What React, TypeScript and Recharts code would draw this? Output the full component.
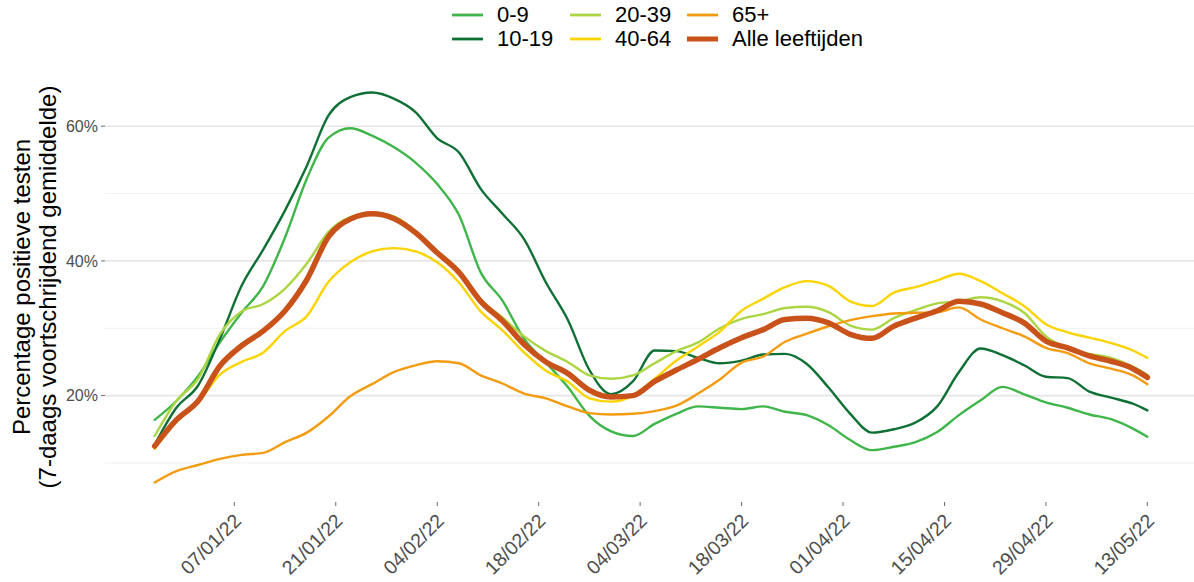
import React from 'react';
import { LineChart, Line, XAxis, YAxis, CartesianGrid } from 'recharts';

// Sample dates (every 3 days, last point 13/05/22)
const sampleDates = [
  '2021-12-27', '2021-12-30', '2022-01-02', '2022-01-05', '2022-01-08', '2022-01-11', '2022-01-14', '2022-01-17', '2022-01-20', '2022-01-23', '2022-01-26', '2022-01-29',
  '2022-02-01', '2022-02-04', '2022-02-07', '2022-02-10', '2022-02-13', '2022-02-16', '2022-02-19', '2022-02-22', '2022-02-25', '2022-02-28', '2022-03-03',
  '2022-03-06', '2022-03-09', '2022-03-12', '2022-03-15', '2022-03-18', '2022-03-21', '2022-03-24', '2022-03-27', '2022-03-30', '2022-04-02', '2022-04-05', '2022-04-08',
  '2022-04-11', '2022-04-14', '2022-04-17', '2022-04-20', '2022-04-23', '2022-04-26', '2022-04-29', '2022-05-02', '2022-05-05', '2022-05-08', '2022-05-11', '2022-05-13',
];

const v0_9 = [16.4, 19.2, 22.9, 27.9, 32.3, 36.3, 43.5, 52.2, 58.3, 59.7, 58.6, 56.9, 54.6, 51.4, 46.8, 38.3, 34.1, 28.4, 24.9, 21.3, 17.0, 14.7, 14.0, 15.8, 17.3, 18.4, 18.2, 18.0, 18.4, 17.6, 17.1, 15.6, 13.4, 11.9, 12.4, 13.1, 14.6, 17.1, 19.3, 21.3, 20.2, 19.0, 18.2, 17.2, 16.5, 15.1, 13.9];
const v10_19 = [12.7, 18.2, 21.5, 28.4, 36.3, 41.7, 47.5, 54.1, 61.6, 64.3, 65.0, 64.1, 62.1, 58.2, 56.1, 50.7, 47.0, 43.2, 36.8, 31.3, 23.8, 20.2, 22.1, 26.7, 26.6, 25.6, 24.8, 25.2, 26.1, 26.2, 24.7, 21.2, 17.3, 14.5, 15.0, 16.0, 18.4, 23.5, 27.0, 26.0, 24.5, 22.8, 22.6, 20.6, 19.7, 18.8, 17.8];
const v20_39 = [14.0, 19.2, 22.5, 29.1, 32.5, 33.6, 35.9, 39.6, 44.3, 46.5, 47.1, 46.6, 44.4, 41.5, 38.6, 34.3, 31.6, 28.8, 26.6, 25.0, 23.0, 22.5, 23.0, 24.8, 26.6, 27.9, 30.0, 31.4, 32.1, 33.0, 33.2, 32.4, 30.4, 29.8, 31.5, 32.7, 33.7, 34.0, 34.6, 34.0, 32.3, 28.8, 27.1, 26.2, 25.6, 24.3, 23.1];
const v40_64 = [12.1, 16.1, 19.0, 23.1, 25.0, 26.4, 29.6, 31.8, 36.9, 39.8, 41.4, 41.9, 41.4, 39.8, 36.8, 32.5, 29.7, 26.4, 23.7, 22.1, 19.6, 19.1, 20.0, 22.5, 25.2, 27.3, 29.5, 32.6, 34.4, 36.1, 37.0, 36.3, 34.0, 33.3, 35.3, 36.1, 37.1, 38.1, 37.0, 35.2, 33.3, 30.6, 29.4, 28.6, 27.8, 26.7, 25.6];
const v65plus = [7.1, 8.8, 9.7, 10.6, 11.2, 11.5, 13.1, 14.5, 16.9, 19.9, 21.7, 23.5, 24.5, 25.1, 24.8, 23.0, 21.8, 20.3, 19.6, 18.4, 17.4, 17.2, 17.3, 17.7, 18.5, 20.3, 22.4, 24.9, 25.8, 28.0, 29.2, 30.3, 31.2, 31.8, 32.2, 32.3, 32.4, 33.1, 31.3, 30.0, 28.8, 27.1, 26.3, 24.8, 24.0, 23.0, 21.7];
const vAlle = [12.5, 16.4, 19.2, 24.4, 27.4, 29.6, 32.6, 37.2, 43.6, 46.2, 47.0, 46.3, 44.2, 41.2, 38.3, 34.0, 31.1, 27.6, 25.0, 23.3, 20.8, 19.8, 20.0, 22.1, 23.8, 25.4, 27.1, 28.6, 29.8, 31.3, 31.5, 30.8, 29.1, 28.5, 30.3, 31.5, 32.6, 34.0, 33.6, 32.3, 30.8, 28.1, 27.1, 25.9, 25.1, 24.0, 22.7];

const seriesNames = ['0-9', '10-19', '20-39', '40-64', '65+', 'Alle leeftijden'];
const seriesColors = ['#3fb54a', '#0f7036', '#acd543', '#fbd400', '#f39c12', '#c9521b'];
const seriesValues = [v0_9, v10_19, v20_39, v40_64, v65plus, vAlle];

const xTickDates = ['2022-01-07', '2022-01-21', '2022-02-04', '2022-02-18', '2022-03-04', '2022-03-18', '2022-04-01', '2022-04-15', '2022-04-29', '2022-05-13'];
const majorYTicks = [20, 40, 60];
const minorYTicks = [10, 30, 50];

const legendOrder = [[0, 2, 4], [1, 3, 5]];

const FONT = '"Liberation Sans", Arial, Helvetica, sans-serif';

const toTime = (s: string) => Date.UTC(+s.slice(0, 4), +s.slice(5, 7) - 1, +s.slice(8, 10));
const keys = ['s0', 's1', 's2', 's3', 's4', 's5'];

const data = sampleDates.map((d, i) => {
  const row: any = { t: toTime(d) };
  seriesValues.forEach((arr, k) => { row[keys[k]] = arr[i]; });
  return row;
});

const tMin = toTime(sampleDates[0]);
const tMax = toTime(sampleDates[sampleDates.length - 1]);
const tSpan = tMax - tMin;
const xDomain = [tMin - 0.05 * tSpan, tMax + 0.05 * tSpan];

const allVals = seriesValues.flat();
const vMin = Math.min(...allVals);
const vMax = Math.max(...allVals);
const vSpan = vMax - vMin;
const yDomain = [vMin - 0.05 * vSpan, vMax + 0.05 * vSpan];

const fmtDate = (t: number) => {
  const d = new Date(t);
  const dd = String(d.getUTCDate()).padStart(2, '0');
  const mm = String(d.getUTCMonth() + 1).padStart(2, '0');
  const yy = String(d.getUTCFullYear()).slice(2);
  return `${dd}/${mm}/${yy}`;
};

const XTick = (props: any) => {
  const { x, y, payload } = props;
  return (
    <g transform={`translate(${x},${y})`}>
      <text x={0} y={0} transform="translate(8,14) rotate(-45)" textAnchor="end" fill="#4d4d4d" fontSize={19.5} fontFamily={FONT}>
        {fmtDate(payload.value)}
      </text>
    </g>
  );
};

const Legend = () => (
  <div style={{ position: 'absolute', left: 0, top: 0, width: 1194, height: 60, fontFamily: FONT, fontSize: 22, color: '#000' }}>
    {legendOrder.map((row, r) =>
      row.map((idx, c) => {
        const left = [452, 570, 687][c];
        const cy = [15, 39][r];
        const thick = idx === 5;
        return (
          <div key={`${r}-${c}`} style={{ position: 'absolute', left, top: cy - 12, height: 24, display: 'flex', alignItems: 'center', whiteSpace: 'nowrap' }}>
            <svg width={31} height={10} style={{ display: 'block' }}>
              <line x1={0} x2={31} y1={5} y2={5} stroke={seriesColors[idx]} strokeWidth={thick ? 5 : 2.8} />
            </svg>
            <span style={{ marginLeft: 14, lineHeight: '24px' }}>{seriesNames[idx]}</span>
          </div>
        );
      })
    )}
  </div>
);

export default function App() {
  return (
    <div style={{ position: 'absolute', left: 0, top: 0, width: 1194, height: 582, overflow: 'hidden', background: '#fff', fontFamily: FONT }}>
      <Legend />
      <svg width={80} height={582} style={{ position: 'absolute', left: 0, top: 0 }}>
        <text transform="translate(30,287) rotate(-90)" textAnchor="middle" fontSize={24} fill="#000" fontFamily={FONT}>Percentage positieve testen</text>
        <text transform="translate(56,287) rotate(-90)" textAnchor="middle" fontSize={24} fill="#000" fontFamily={FONT}>(7-daags voortschrijdend gemiddelde)</text>
      </svg>
      <div style={{ position: 'absolute', left: 0, top: 0 }}>
        <LineChart width={1197} height={582} data={data} margin={{ top: 73, right: 0, bottom: 0, left: 0 }}>
          <CartesianGrid vertical={false} horizontalValues={minorYTicks} stroke="#f1f1f1" strokeWidth={1} />
          <CartesianGrid vertical={false} horizontalValues={majorYTicks} stroke="#e6e6e6" strokeWidth={1.6} />
          <XAxis
            dataKey="t"
            type="number"
            scale="time"
            domain={xDomain}
            ticks={xTickDates.map(toTime)}
            tick={<XTick />}
            height={80}
            axisLine={false}
            tickLine={{ stroke: '#444', strokeWidth: 0.8 }}
            tickSize={4}
            tickMargin={2}
            interval={0}
            allowDataOverflow
          />
          <YAxis
            type="number"
            domain={yDomain}
            ticks={majorYTicks}
            tickFormatter={(v: number) => `${v}%`}
            width={105}
            axisLine={false}
            tickLine={{ stroke: '#444', strokeWidth: 0.8 }}
            tickSize={4}
            tickMargin={3}
            tick={{ fill: '#4d4d4d', fontSize: 16, fontFamily: FONT }}
            allowDataOverflow
          />
          {keys.map((k, i) => (
            <Line
              key={k}
              dataKey={k}
              name={seriesNames[i]}
              type="monotone"
              stroke={seriesColors[i]}
              strokeWidth={i === 5 ? 5.5 : 2.4}
              dot={false}
              activeDot={false}
              isAnimationActive={false}
              strokeLinejoin="round"
              strokeLinecap="round"
            />
          ))}
        </LineChart>
      </div>
    </div>
  );
}
